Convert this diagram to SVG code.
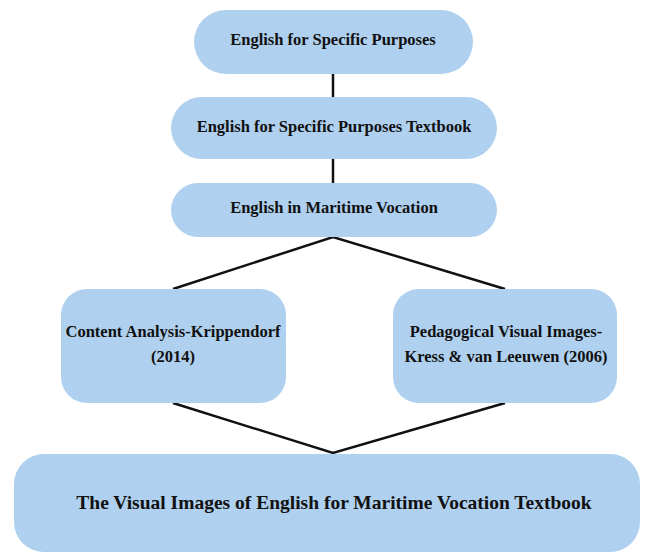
<svg xmlns="http://www.w3.org/2000/svg" width="645" height="554" viewBox="0 0 645 554">
<style>
.box{fill:#afd0ee;}
.t{font-family:"Times New Roman","Liberation Serif",Tinos,"DejaVu Serif",serif;font-weight:bold;font-size:16.5px;fill:#111;text-anchor:middle;}
.big{font-size:19.5px;}
.c{stroke:#111;stroke-width:2.5;fill:none;}
</style>
<rect width="645" height="554" fill="#fff"/>
<g id="connectors">
<line class="c" x1="333" y1="74" x2="333" y2="97"/>
<line class="c" x1="333" y1="159" x2="333" y2="183"/>
<polyline class="c" points="173,289 333,237 505,289"/>
<polyline class="c" points="173,403 333,453 505,403"/>
</g>
<g id="esp">
<rect class="box" x="194" y="10" width="279" height="64" rx="32"/>
<text class="t" x="333" y="45">English for Specific Purposes</text>
</g>
<g id="esp-textbook">
<rect class="box" x="171" y="97" width="326" height="62" rx="31"/>
<text class="t" x="334" y="132">English for Specific Purposes Textbook</text>
</g>
<g id="maritime">
<rect class="box" x="171" y="183" width="326" height="54" rx="27"/>
<text class="t" x="334" y="213">English in Maritime Vocation</text>
</g>
<g id="content-analysis">
<rect class="box" x="61" y="289" width="225" height="114" rx="26"/>
<text class="t" x="173" y="337">Content Analysis-Krippendorf</text>
<text class="t" x="173" y="362">(2014)</text>
</g>
<g id="pedagogical">
<rect class="box" x="393" y="289" width="224" height="114" rx="26"/>
<text class="t" x="506" y="337">Pedagogical Visual Images-</text>
<text class="t" x="506" y="362">Kress &amp; van Leeuwen (2006)</text>
</g>
<g id="visual-images">
<rect class="box" x="14" y="454" width="626" height="98" rx="30"/>
<text class="t big" x="334" y="509">The Visual Images of English for Maritime Vocation Textbook</text>
</g>
</svg>
